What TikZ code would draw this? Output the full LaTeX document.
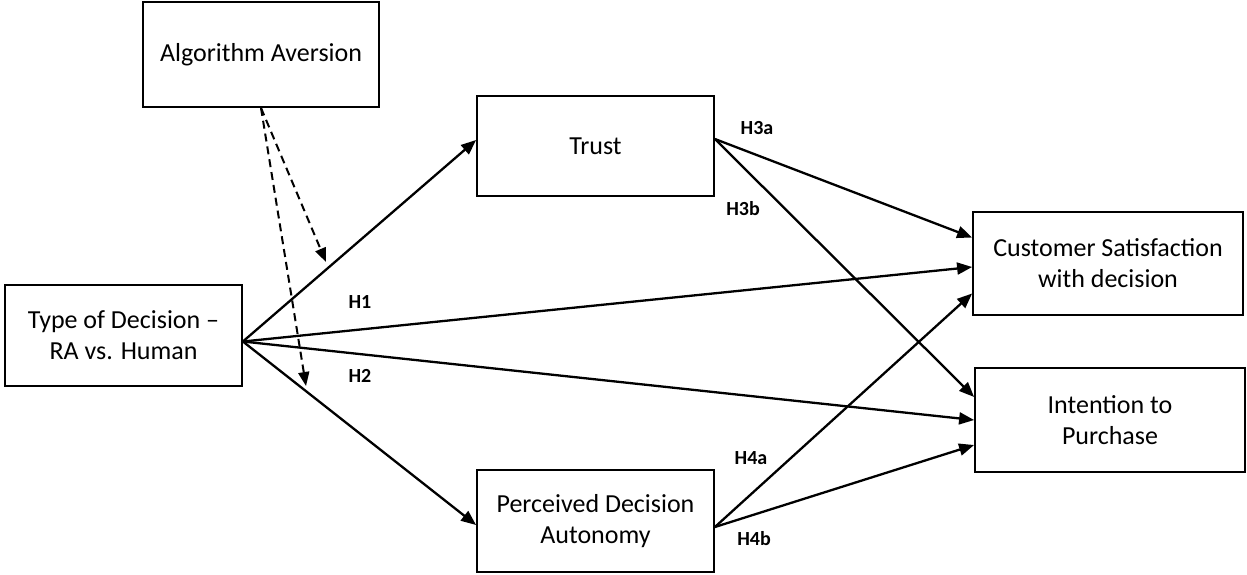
\documentclass[tikz,border=0pt]{standalone}
\usepackage{fontspec}
\setmainfont{Carlito}
\usetikzlibrary{arrows.meta}
\begin{document}
\begin{tikzpicture}[x=1pt,y=-1pt,
    box/.style={draw,line width=1.8pt,minimum width=237pt,minimum height=101pt,
        inner sep=0pt,align=center,font=\fontsize{26}{31}\selectfont},
    path/.style={line width=2.3pt,-{Triangle[length=15pt,width=12pt]}},
    modpath/.style={line width=2pt,dash pattern=on 8pt off 5pt,-{Triangle[length=14pt,width=11pt]}},
    hyp/.style={font=\bfseries\fontsize{20}{24}\selectfont}]
    \useasboundingbox (0,0) rectangle (1247,574);
    % constructs
    \node[box,minimum width=236pt,minimum height=105pt] (algo) at (261,54.5) {Algorithm Aversion};
    \node[box,minimum height=100pt] (trust) at (595.5,146) {Trust};
    \node[box] (type) at (123.5,335.5) {Type of Decision --\\RA vs. Human};
    \node[box,minimum height=102pt] (pda) at (595.5,521) {Perceived Decision\\Autonomy};
    \node[box,minimum width=270pt,minimum height=103pt] (cust) at (1108,263.5) {Customer Satisfaction\\with decision};
    \node[box,minimum width=270pt,minimum height=104pt] (int) at (1110,420) {Intention to\\Purchase};
    % moderator
    \coordinate (m1) at (326,262);
    \coordinate (m2) at (306,386);
    \draw[modpath] (algo.south) -- (m1);
    \draw[modpath] (algo.south) -- (m2);
    % paths
    \draw[path] ([yshift=-6pt]type.east) -- ([yshift=6pt]trust.west);
    \draw[path] ([yshift=-6pt]type.east) -- ([yshift=-3.5pt]cust.west);
    \draw[path] ([yshift=-6pt]type.east) -- (int.west);
    \draw[path] ([yshift=-6pt]type.east) -- ([yshift=-4pt]pda.west);
    \draw[path] ([yshift=7pt]trust.east) -- ([yshift=26pt]cust.west);
    \draw[path] ([yshift=7pt]trust.east) -- ([yshift=23pt]int.west);
    \draw[path] ([yshift=-6pt]pda.east) -- ([yshift=-30pt]cust.west);
    \draw[path] ([yshift=-6pt]pda.east) -- ([yshift=-25pt]int.west);
    % hypotheses
    \node[hyp] (h1) at (360,302) {H1};
    \node[hyp] (h2) at (360,376) {H2};
    \node[hyp] (h3a) at (757,128) {H3a};
    \node[hyp] (h3b) at (743,209) {H3b};
    \node[hyp] (h4a) at (751,458) {H4a};
    \node[hyp] (h4b) at (754,539) {H4b};
\end{tikzpicture}
\end{document}
